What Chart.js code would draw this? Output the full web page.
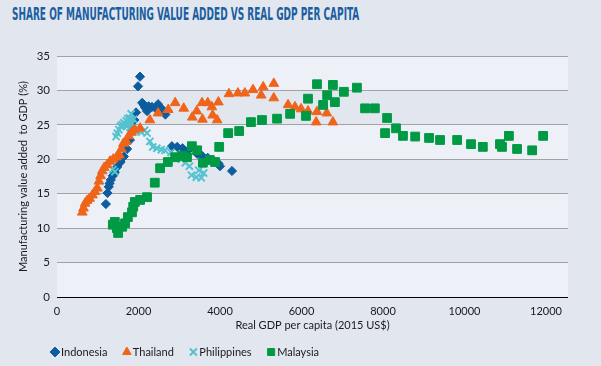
<!DOCTYPE html>
<html>
<head>
<meta charset="utf-8">
<script src="https://cdn.jsdelivr.net/npm/chart.js@4/dist/chart.umd.min.js"></script>
<style>
  html, body { margin: 0; padding: 0; }
  #wrap { position: relative; width: 601px; height: 366px; background: #e1e6ef; overflow: hidden; }
  #title {
    position: absolute; left: 12px; top: 4px; white-space: nowrap;
    font: bold 17.5px/20px "Liberation Sans Narrow", "DejaVu Sans Condensed", "Liberation Sans", sans-serif;
    color: #1c5e9f; transform-origin: 0 0;
  }
  canvas { position: absolute; left: 0; top: 0; }
</style>
</head>
<body>
<div id="wrap">
  <div id="title">SHARE OF MANUFACTURING VALUE ADDED VS REAL GDP PER CAPITA</div>
  <canvas id="chart" width="601" height="366"></canvas>
</div>
<script>
// ── Data ────────────────────────────────────────────────────
const seriesNames = ['Indonesia', 'Thailand', 'Philippines', 'Malaysia'];
const xTicks = [0, 2000, 4000, 6000, 8000, 10000, 12000];
const yTicks = [0, 5, 10, 15, 20, 25, 30, 35];

const indonesiaGdp = [1200, 1240, 1270, 1290, 1320, 1370, 1420, 1480, 1560, 1640, 1720, 1790, 1850, 1900, 1940, 1988, 2037,
  2090, 2130, 2160, 2210, 2250, 2330, 2420, 2480, 2560, 2660, 2820, 2950, 3080, 3200, 3440, 3560, 3700, 3850, 3960, 4000, 4295];
const indonesiaMva = [13.5, 15.1, 16.0, 16.5, 17.0, 17.6, 18.1, 18.9, 19.6, 20.4, 21.5, 22.8, 24.2, 25.7, 26.8, 30.6, 32.0,
  28.2, 27.9, 27.5, 27.0, 27.7, 27.6, 27.4, 28.0, 27.4, 26.5, 21.9, 21.8, 21.6, 21.2, 20.8, 20.5, 20.2, 19.7, 19.4, 19.0, 18.3];

const thailandGdp = [620, 650, 690, 740, 800, 870, 930, 990, 1030, 1070, 1110, 1160, 1230, 1300, 1380, 1460, 1530, 1580, 1630,
  1700, 1760, 1830, 1900, 2040, 2280, 2480, 2730, 2900, 3110, 3320, 3430, 3560, 3570, 3700, 3800, 3820, 3930, 3960, 4220, 4440,
  4610, 4810, 5010, 5060, 5320, 5320, 5670, 5840, 5990, 6160, 6380, 6360, 6620, 6770];
const thailandMva = [12.3, 12.9, 13.6, 14.0, 14.3, 14.8, 15.3, 15.8, 16.8, 17.6, 18.3, 18.8, 19.2, 19.7, 20.0, 20.3, 20.6, 21.5, 22.3,
  22.6, 23.4, 23.9, 24.3, 24.5, 25.7, 26.7, 27.2, 28.2, 27.4, 26.1, 27.0, 28.2, 25.8, 28.2, 27.6, 26.4, 25.7, 28.3, 29.5, 29.6,
  29.6, 30.1, 29.3, 30.5, 31.0, 28.9, 27.9, 27.6, 27.3, 27.0, 26.9, 25.4, 26.7, 25.4];

const philippinesGdp = [1370, 1420, 1450, 1480, 1520, 1560, 1600, 1640, 1680, 1700, 1720, 1740, 1760, 1780, 1790, 1800, 1820,
  1840, 1860, 1880, 1900, 1950, 2000, 2060, 2150, 2210, 2280, 2350, 2450, 2560, 2650, 2800, 2950, 3050, 3150, 3250, 3300, 3420,
  3480, 3540, 3600];
const philippinesMva = [18.5, 18.2, 23.3, 23.8, 24.3, 24.8, 25.0, 25.3, 25.0, 25.6, 24.8, 25.9, 25.3, 26.0, 24.6, 25.4, 26.6,
  25.2, 24.4, 25.8, 24.2, 24.0, 24.4, 24.0, 24.2, 23.8, 22.6, 21.8, 21.6, 21.4, 21.3, 21.0, 20.4, 20.0, 19.5, 19.0, 17.7, 17.4,
  18.4, 17.3, 18.0];

const malaysiaGdp = [1370, 1420, 1470, 1500, 1600, 1670, 1740, 1840, 1870, 1910, 2040, 2210, 2400, 2530, 2720, 2900, 3070, 3190,
  3310, 3440, 3580, 3750, 3880, 3980, 4200, 4470, 4760, 5030, 5400, 5720, 6110, 6160, 6380, 6530, 6630, 6770, 6820, 7040, 7360,
  7560, 7800, 8100, 8050, 8320, 8490, 8790, 9130, 9400, 9820, 10160, 10450, 10870, 10920, 11090, 11290, 11660, 11930];
const malaysiaMva = [10.5, 10.9, 10.0, 9.3, 10.2, 10.7, 11.6, 12.3, 13.1, 13.8, 14.1, 14.5, 16.6, 18.7, 19.6, 20.3, 20.5, 20.3,
  21.9, 21.3, 19.5, 19.9, 19.6, 21.8, 23.8, 24.1, 25.4, 25.7, 25.9, 26.6, 26.3, 28.8, 30.9, 27.9, 29.3, 30.8, 28.3, 29.8, 30.4,
  27.4, 27.4, 26.0, 23.8, 24.5, 23.4, 23.3, 23.1, 22.8, 22.8, 22.2, 21.8, 22.2, 21.8, 23.4, 21.5, 21.3, 23.4];

const pts = (xs, ys) => xs.map((x, i) => ({ x, y: ys[i] }));

// ── Title: squeeze to the condensed width of the original ──
const titleEl = document.getElementById('title');
titleEl.style.transform = 'scaleX(' + (347 / titleEl.scrollWidth) + ')';

// ── Plugins ────────────────────────────────────────────────
const bands = {
  id: 'bands',
  beforeDraw(chart) {
    const { ctx, chartArea: a, scales: { y } } = chart;
    ctx.save();
    ctx.fillStyle = '#edf0f7';
    for (let v = 0; v < 35; v += 10) {
      const top = y.getPixelForValue(v + 5), bot = y.getPixelForValue(v);
      ctx.fillRect(a.left, top, a.right - a.left, bot - top);
    }
    ctx.restore();
  }
};

const legendShift = {
  id: 'legendShift',
  afterLayout(chart) {
    const lg = chart.legend;
    const dx = 35.5 - lg.left, dy = 327.5 - lg.top;
    lg.left += dx; lg.right += dx; lg.top += dy; lg.bottom += dy;
  }
};

const font = { family: 'Lato', size: 11 };

new Chart(document.getElementById('chart'), {
  type: 'scatter',
  data: {
    datasets: [
      { label: seriesNames[0], data: pts(indonesiaGdp, indonesiaMva), pointStyle: 'rectRot', pointRadius: 4.6,
        backgroundColor: '#0d5c9e', borderColor: '#0d5c9e', borderWidth: 1, order: 3 },
      { label: seriesNames[1], data: pts(thailandGdp, thailandMva), pointStyle: 'triangle', pointRadius: 5.6,
        backgroundColor: '#f0641a', borderColor: '#f0641a', borderWidth: 1, order: 1 },
      { label: seriesNames[2], data: pts(philippinesGdp, philippinesMva), pointStyle: 'crossRot', pointRadius: 5,
        backgroundColor: '#55c2cf', borderColor: '#55c2cf', borderWidth: 2, order: 2 },
      { label: seriesNames[3], data: pts(malaysiaGdp, malaysiaMva), pointStyle: 'rect', pointRadius: 6.2,
        backgroundColor: '#009a44', borderColor: '#009a44', borderWidth: 1, order: 0 },
    ]
  },
  options: {
    responsive: false,
    animation: false,
    events: [],
    layout: { padding: { top: 56, right: 33, left: 0, bottom: 0 } },
    plugins: {
      tooltip: { enabled: false },
      legend: {
        position: 'bottom', align: 'start', maxHeight: 34,
        labels: { usePointStyle: true, boxWidth: 1, boxHeight: 7, padding: 19, color: '#1a1a1a', font,
          sort: (a, b) => a.datasetIndex - b.datasetIndex }
      }
    },
    scales: {
      x: {
        type: 'linear', min: 0, max: 12540,
        afterBuildTicks: s => { s.ticks = xTicks.map(v => ({ value: v })); },
        afterFit: s => { s.height = 35; },
        grid: { display: false, drawTicks: false },
        border: { display: false },
        ticks: { padding: 8, color: '#1a1a1a', font, maxRotation: 0, callback: v => String(v) },
        title: { display: true, text: 'Real GDP per capita (2015 US$)', color: '#1a1a1a', font, padding: 0 }
      },
      y: {
        min: 0, max: 35,
        afterBuildTicks: s => { s.ticks = yTicks.map(v => ({ value: v })); },
        afterFit: s => { s.width = 57; },
        grid: { drawTicks: false, color: c => c.tick && c.tick.value === 0 ? '#000' : '#a3a3a3', lineWidth: 1 },
        border: { display: false },
        ticks: { padding: 7, color: '#1a1a1a', font: { family: 'Lato', size: 11.5 } },
        title: { display: true, text: 'Manufacturing value added  to GDP (%)', color: '#1a1a1a', font,
          padding: { top: 17, bottom: 0 } }
      }
    }
  },
  plugins: [bands, legendShift]
});
</script>
</body>
</html>
